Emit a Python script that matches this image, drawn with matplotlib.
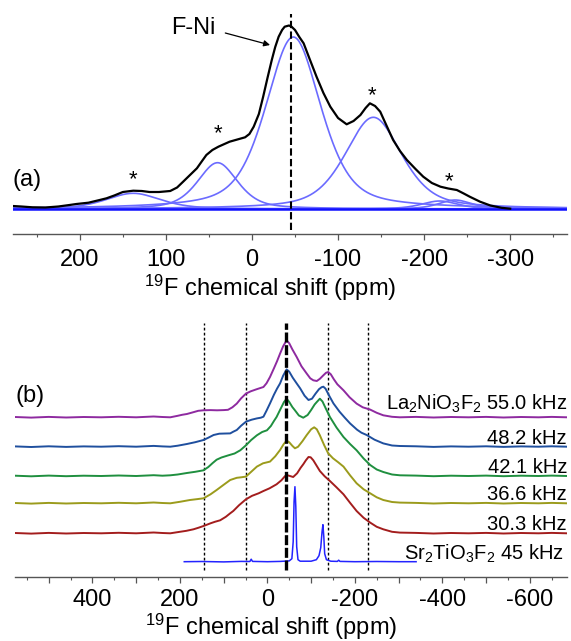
import numpy as np
import matplotlib
matplotlib.use("Agg")
import matplotlib.pyplot as plt
from matplotlib.ticker import MultipleLocator, FuncFormatter

plt.rcParams['font.family'] = ['Liberation Sans', 'DejaVu Sans']
plt.rcParams['mathtext.default'] = 'regular'

# ---------------- data (a): measured spectrum + fitted components ----------------
ppm_a = [278, 268, 255, 240, 225, 212, 204, 190, 177, 169, 160, 150, 138, 128, 119, 108,
         95, 87, 80, 72, 64, 58, 53, 46, 39, 32, 26, 17, 8, 3, -2, -8, -13, -18, -23,
         -27, -31, -35, -38, -43, -46, -50, -55, -60, -67, -75, -83, -91, -100, -110,
         -118, -126, -132, -137, -143, -149, -156, -164, -172, -180, -190, -199, -209,
         -219, -228, -238, -246, -253, -265, -277, -290, -300]
int_a = [3, 2.5, 1.7, 1.5, 2.5, 4, 5, 6.3, 9, 10.7, 13.5, 17, 18.3, 18, 17, 17,
         18, 21.5, 27.3, 34, 40.7, 48, 54, 59, 62.3, 65, 67.3, 69.5, 71.7, 75, 82.3, 95,
         112.3, 131, 149, 162, 172.3, 179, 182.3, 183.5, 182.3, 179, 172, 165.7, 150,
         132.3, 116, 102.3, 91, 84.7, 88, 94, 101, 105.7, 103, 97.3, 84, 69, 58, 49, 40,
         32.3, 26, 22.3, 20.5, 19, 15.5, 12.3, 7.3, 3.5, 1.2, 0.3]

# fitted pseudo-Voigt components (centre ppm, height, FWHM ppm)
fit_centre = [138, 40, -48, -141, -218, -236]
fit_height = [15.7, 46.3, 172, 91.7, 8, 9]
fit_fwhm = [75, 55, 76, 78, 50, 45]

stars_ppm = [138, 40, -140, -229]
stars_int = [35.7, 82.3, 119.7, 34]

# ---------------- data (b): spectra at several spinning speeds ----------------
labels_b = ['La$_2$NiO$_3$F$_2$ 55.0 kHz', '48.2 kHz', '42.1 kHz', '36.6 kHz', '30.3 kHz']
colors_b = ['#8e2aa0', '#1f4f9e', '#1f8f3f', '#9b9b1c', '#a31d1d']

flat_left_ppm = [577, 540, 500, 460, 420, 380, 340, 300, 260, 240]
flat_left_int = [0.3, -0.3, 0.4, -0.2, 0.3, 0, 0.5, 0, 0.8, 0.3]
flat_right_ppm = [-340, -380, -420, -460, -500, -540, -580, -620, -650, -685]
flat_right_int = [0.4, -0.2, 0.3, 0, 0.4, -0.2, 0.3, 0, 0.4, 0]

ppm_55 = [222, 205, 195, 184, 170, 158, 146, 130, 115, 100, 90, 80, 70, 60, 49, 38, 25, 9, 2,
          -6, -15, -22, -29, -36, -44, -50, -57, -67, -78, -90, -98, -105, -113, -120, -128,
          -134, -139, -145, -152, -160, -174, -188, -204, -218, -235, -250, -265, -285, -303]
int_55 = [0, 1.5, 2.5, 3.3, 5, 6.5, 7, 7.2, 7, 7.2, 7.5, 10, 13.7, 19, 23.7, 26, 28, 30.3, 34,
          40.3, 49, 56, 63.7, 71, 77, 74, 68, 60.3, 51, 43.7, 39, 37, 36.3, 38.5, 42,
          44.5, 45.3, 43, 38, 33, 27, 20, 13.7, 10, 7.7, 4.5, 2, 0.5, 0]

ppm_48 = [222, 205, 184, 165, 146, 135, 123, 110, 95, 85, 78, 70, 60, 49, 36, 24, 15, 9, 2,
          -6, -15, -22, -29, -36, -44, -50, -58, -67, -75, -85, -94, -102, -110, -118, -124,
          -128, -133, -140, -151, -165, -177, -189, -205, -215, -227, -245, -265, -285, -303]
int_48 = [0, 1, 2.7, 4.5, 6.7, 9, 11.7, 13, 13.2, 13.3, 15, 16.7, 21, 25, 27, 28.3, 29, 30, 36,
          43.3, 52, 58, 63.3, 71, 77.3, 75, 69, 63.3, 58.3, 51, 46.7, 48, 53, 57.5, 59.5,
          60, 58, 52, 43.3, 35, 29, 23.3, 17, 14, 11.7, 7, 3.3, 1.2, 0.7]

ppm_42 = [222, 205, 184, 165, 146, 135, 125, 116, 105, 89, 75, 62, 49, 37, 24, 12, 1, -8,
          -15, -21, -30, -38, -44, -50, -57, -63, -72, -82, -92, -100, -108, -113, -120,
          -126, -133, -143, -158, -174, -189, -204, -220, -235, -250, -265, -285, -303]
int_42 = [0.7, 1.5, 3, 4.2, 5.7, 9, 13, 16.3, 18.5, 20.7, 22.5, 25.7, 30.7, 36, 40.7, 44, 45.7, 50,
          55, 59, 67, 74, 77.3, 74, 69, 65.7, 60.5, 58.3, 61, 66, 71.5, 74, 77.3,
          74.5, 68, 59, 48.5, 39, 32, 25.7, 17.5, 11, 6.5, 4, 1.5, 0.7]

ppm_36 = [222, 200, 177, 160, 146, 130, 116, 100, 85, 70, 60, 49, 37, 24, 10, -6, -18, -29,
          -37, -44, -50, -57, -63, -70, -80, -90, -100, -107, -113, -120, -130, -139, -150,
          -162, -174, -189, -204, -220, -235, -250, -265, -285, -303]
int_36 = [0, 1.5, 3.3, 4.2, 5, 9, 13.3, 18.5, 23.3, 25.5, 26, 26.7, 31.5, 36.7, 40, 41.7, 47, 53.3,
          59, 62.7, 61, 57.5, 55, 56.5, 62, 68.3, 74, 76, 74, 68, 58, 50, 45,
          41, 36.7, 28, 20, 14, 10, 6, 3.3, 1.3, 0.7]

ppm_30 = [222, 200, 185, 169, 158, 146, 130, 120, 108, 95, 85, 78, 65, 49, 35, 20, 9, -5, -21,
          -32, -40, -44, -50, -59, -68, -76, -82, -88, -94, -99, -105, -112, -120, -131, -143,
          -158, -174, -189, -204, -220, -235, -250, -265, -285, -303]
int_30 = [0, 1.5, 2.5, 4, 5.5, 7.3, 10, 11.5, 13, 16.5, 20, 22.3, 28, 34, 37.5, 40, 42.3, 45, 49,
          53, 57, 58.3, 57.5, 56.3, 60, 65.5, 69, 73, 76.3, 76, 73, 68, 62.3, 57, 52.3,
          46, 39, 30.5, 22.3, 15.5, 10.7, 6.5, 4, 1.5, 0.7]

spectra_ppm = [ppm_55, ppm_48, ppm_42, ppm_36, ppm_30]
spectra_int = [int_55, int_48, int_42, int_36, int_30]

ref_label = 'Sr$_2$TiO$_3$F$_2$ 45 kHz'
ref_ppm = [190, 150, 100, 60, 40, 37, 34, 0, -30, -50, -56, -59, -61, -63, -65, -67, -70, -75,
           -100, -112, -118, -122, -125, -127, -129, -131, -135, -145, -160, -163, -166,
           -200, -250, -300, -340]
ref_int = [0, 0.2, -0.2, 0.3, 0.2, 2.5, 0.3, 0, 0.3, 0.8, 3, 20, 60, 75, 55, 15, 2, 0.5,
           0.5, 2, 6, 14, 30, 37, 25, 8, 2, 0.5, 0.3, 1.5, 0.3,
           0, 0.2, 0, 0]

sideband_ppm = [144, 49, -139, -231]
centre_ppm_b = -43
centre_ppm_a = -45


def pseudo_voigt(x, c, h, fwhm, eta=0.5):
    hw = fwhm / 2.0
    sig = fwhm / 2.3548
    lor = 1.0 / (1.0 + ((x - c) / hw) ** 2)
    gau = np.exp(-(x - c) ** 2 / (2 * sig ** 2))
    return h * (eta * lor + (1 - eta) * gau)


fig = plt.figure(figsize=(5.71, 6.41), dpi=100)
W, H = 571.0, 641.0

AXCOL = '#555555'


def style_axis(ax, pad):
    for s in ['top', 'left', 'right']:
        ax.spines[s].set_visible(False)
    ax.spines['bottom'].set_color(AXCOL)
    ax.spines['bottom'].set_linewidth(1.0)
    ax.set_yticks([])
    ax.tick_params(axis='x', which='major', direction='out', length=4.5, width=0.9,
                   color=AXCOL, labelsize=17, pad=pad)
    ax.tick_params(axis='x', which='minor', direction='out', length=2.5, width=0.8, color=AXCOL)
    ax.patch.set_alpha(0)


# ---------------- panel (a) ----------------
axa = fig.add_axes([12.7 / W, 1 - 234 / H, 554.3 / W, 224 / H])
axa.set_xlim(278, -366)
axa.set_ylim(-25, 199)
style_axis(axa, 6.5)
axa.xaxis.set_major_locator(MultipleLocator(100))
axa.xaxis.set_minor_locator(MultipleLocator(50))
axa.xaxis.set_major_formatter(FuncFormatter(lambda v, p: '%d' % v))

xa = np.linspace(278, -366, 1500)
for c, h, f in zip(fit_centre, fit_height, fit_fwhm):
    axa.plot(xa, pseudo_voigt(xa, c, h, f), color='#6b6bff', lw=1.2, zorder=3)
axa.plot([278, -366], [0, 0], color='#1010ff', lw=1.8, zorder=3.5)
axa.plot(ppm_a, int_a, color='black', lw=1.6, zorder=4)
axa.plot([centre_ppm_a, centre_ppm_a], [-21, 195], color='black', lw=1.5,
         dashes=(3.5, 1.6), zorder=5)
for sx, sy in zip(stars_ppm, stars_int):
    axa.text(sx, sy - 12, '*', fontsize=16, ha='center', va='baseline')
axa.text(278, 29, '(a)', fontsize=17, ha='left', va='center')
axa.text(68.6, 181, 'F-Ni', fontsize=17, ha='center', va='center')
axa.annotate('', xy=(-21, 164), xytext=(31, 176),
             arrowprops=dict(arrowstyle='-|>', color='black', lw=0.9, mutation_scale=9,
                             shrinkA=0, shrinkB=0))
fig.text(270 / W, 1 - 296 / H, '$^{19}$F chemical shift (ppm)', fontsize=17,
         ha='center', va='baseline')

# ---------------- panel (b) ----------------
axb = fig.add_axes([15 / W, 1 - 576.7 / H, 552 / W, 256.7 / H])
axb.set_xlim(577, -685)
axb.set_ylim(0, 256.7)
style_axis(axb, 4)
axb.xaxis.set_major_locator(MultipleLocator(100))
axb.xaxis.set_minor_locator(MultipleLocator(50))
axb.xaxis.set_major_formatter(FuncFormatter(lambda v, p: '%d' % v if round(v) % 200 == 0 else ''))

offsets = [159.4, 130, 100.7, 73.4, 43.4]
label_lift = [8, 3, 3, 3, 3]
for ppm, inten, off, col, lab, lift in zip(spectra_ppm, spectra_int, offsets, colors_b,
                                            labels_b, label_lift):
    xs = flat_left_ppm + ppm + flat_right_ppm
    ys = np.array(flat_left_int + inten + flat_right_int) + off
    axb.plot(xs, ys, color=col, lw=1.4, zorder=3)
    axb.text(-685, off + lift, lab, fontsize=14.5, ha='right', va='baseline', zorder=4)

ref_off = 15
axb.plot(ref_ppm, np.array(ref_int) + ref_off, color='#2323ff', lw=1.1, zorder=3)
axb.text(-678, ref_off + 2, ref_label, fontsize=14.5, ha='right', va='baseline', zorder=4)

for sb in sideband_ppm:
    axb.plot([sb, sb], [6.7, 253.7], color='black', lw=1.0, ls=(0, (2, 1.6)), zorder=2)
axb.plot([centre_ppm_b, centre_ppm_b], [6.7, 253.7], color='black', lw=2.4,
         dashes=(3, 0.8), zorder=5)
axb.text(577 - 2, 181, '(b)', fontsize=17, ha='left', va='center')
fig.text(271 / W, 1 - 635 / H, '$^{19}$F chemical shift (ppm)', fontsize=17,
         ha='center', va='baseline')

fig.savefig('out.png', dpi=100)
